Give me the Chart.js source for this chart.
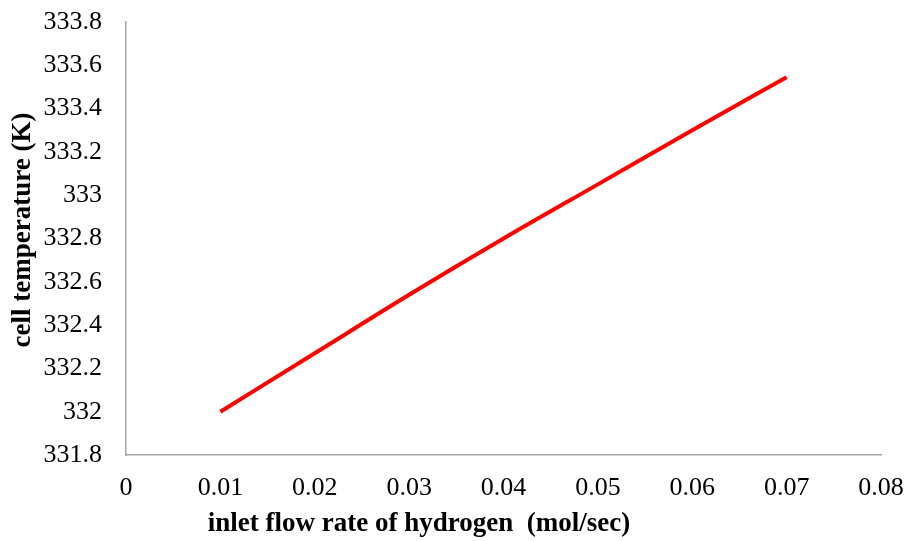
<!DOCTYPE html>
<html>
<head>
<meta charset="utf-8">
<script src="https://cdn.jsdelivr.net/npm/chart.js@4/dist/chart.umd.min.js"></script>
<style>
  html, body { margin: 0; padding: 0; background: #ffffff; }
  #wrap { width: 908px; height: 541px; position: relative; }
</style>
</head>
<body>
<div id="wrap"><canvas id="c" width="908" height="541"></canvas></div>
<script>
// Inlet hydrogen flow rate (mol/sec)
const flowRate = [0.01, 0.02, 0.03, 0.04, 0.05, 0.06, 0.07];
// Resulting cell temperature (K)
const cellTemp = [332.0, 332.27, 332.54, 332.80, 333.05, 333.30, 333.545];

const xTicks = [0, 0.01, 0.02, 0.03, 0.04, 0.05, 0.06, 0.07, 0.08];
const yTicks = [331.8, 332, 332.2, 332.4, 332.6, 332.8, 333, 333.2, 333.4, 333.6, 333.8];

const xTitle = 'inlet flow rate of hydrogen  (mol/sec)';
const yTitle = 'cell temperature (K)';

const serif = "'Liberation Serif', 'Times New Roman', serif";

// Axis titles, placed a little off the plot centre
const axisTitles = {
  id: 'axisTitles',
  afterDraw(chart) {
    const { ctx, chartArea } = chart;
    ctx.save();
    ctx.fillStyle = '#000000';
    ctx.font = 'bold 27px ' + serif;
    ctx.textAlign = 'center';
    ctx.textBaseline = 'middle';
    ctx.fillText(xTitle, chartArea.left + 293, chartArea.bottom + 69);
    ctx.translate(23, chartArea.top + 208);
    ctx.rotate(-Math.PI / 2);
    ctx.fillText(yTitle, 0, 0);
    ctx.restore();
  }
};

new Chart(document.getElementById('c'), {
  type: 'scatter',
  data: {
    datasets: [{
      data: flowRate.map((x, i) => ({ x: x, y: cellTemp[i] })),
      showLine: true,
      borderColor: '#ff0000',
      borderWidth: 4,
      pointRadius: 0,
      tension: 0.4,
      cubicInterpolationMode: 'monotone',
      fill: false
    }]
  },
  options: {
    responsive: false,
    animation: false,
    layout: { padding: { top: 22, right: 27, left: 0, bottom: 0 } },
    plugins: { legend: { display: false }, tooltip: { enabled: false } },
    scales: {
      x: {
        type: 'linear',
        min: 0, max: 0.08,
        afterBuildTicks: s => { s.ticks = xTicks.map(v => ({ value: v })); },
        ticks: {
          color: '#000000',
          font: { family: serif, size: 26 },
          padding: 18,
          maxRotation: 0,
          callback: v => String(v)
        },
        grid: { display: false, drawTicks: false },
        border: { display: true, color: '#a6a6a6', width: 1.5 },
        afterFit: s => { s.height = 86; s.paddingLeft = 0; s.paddingRight = 0; }
      },
      y: {
        type: 'linear',
        min: 331.8, max: 333.8,
        afterBuildTicks: s => { s.ticks = yTicks.map(v => ({ value: v })); },
        ticks: {
          color: '#000000',
          font: { family: serif, size: 26 },
          padding: 24,
          callback: v => String(Math.round(v * 10) / 10)
        },
        grid: { display: false, drawTicks: false },
        border: { display: true, color: '#a6a6a6', width: 1.5 },
        afterFit: s => { s.width = 126; s.paddingTop = 0; s.paddingBottom = 0; }
      }
    }
  },
  plugins: [axisTitles]
});
</script>
</body>
</html>
